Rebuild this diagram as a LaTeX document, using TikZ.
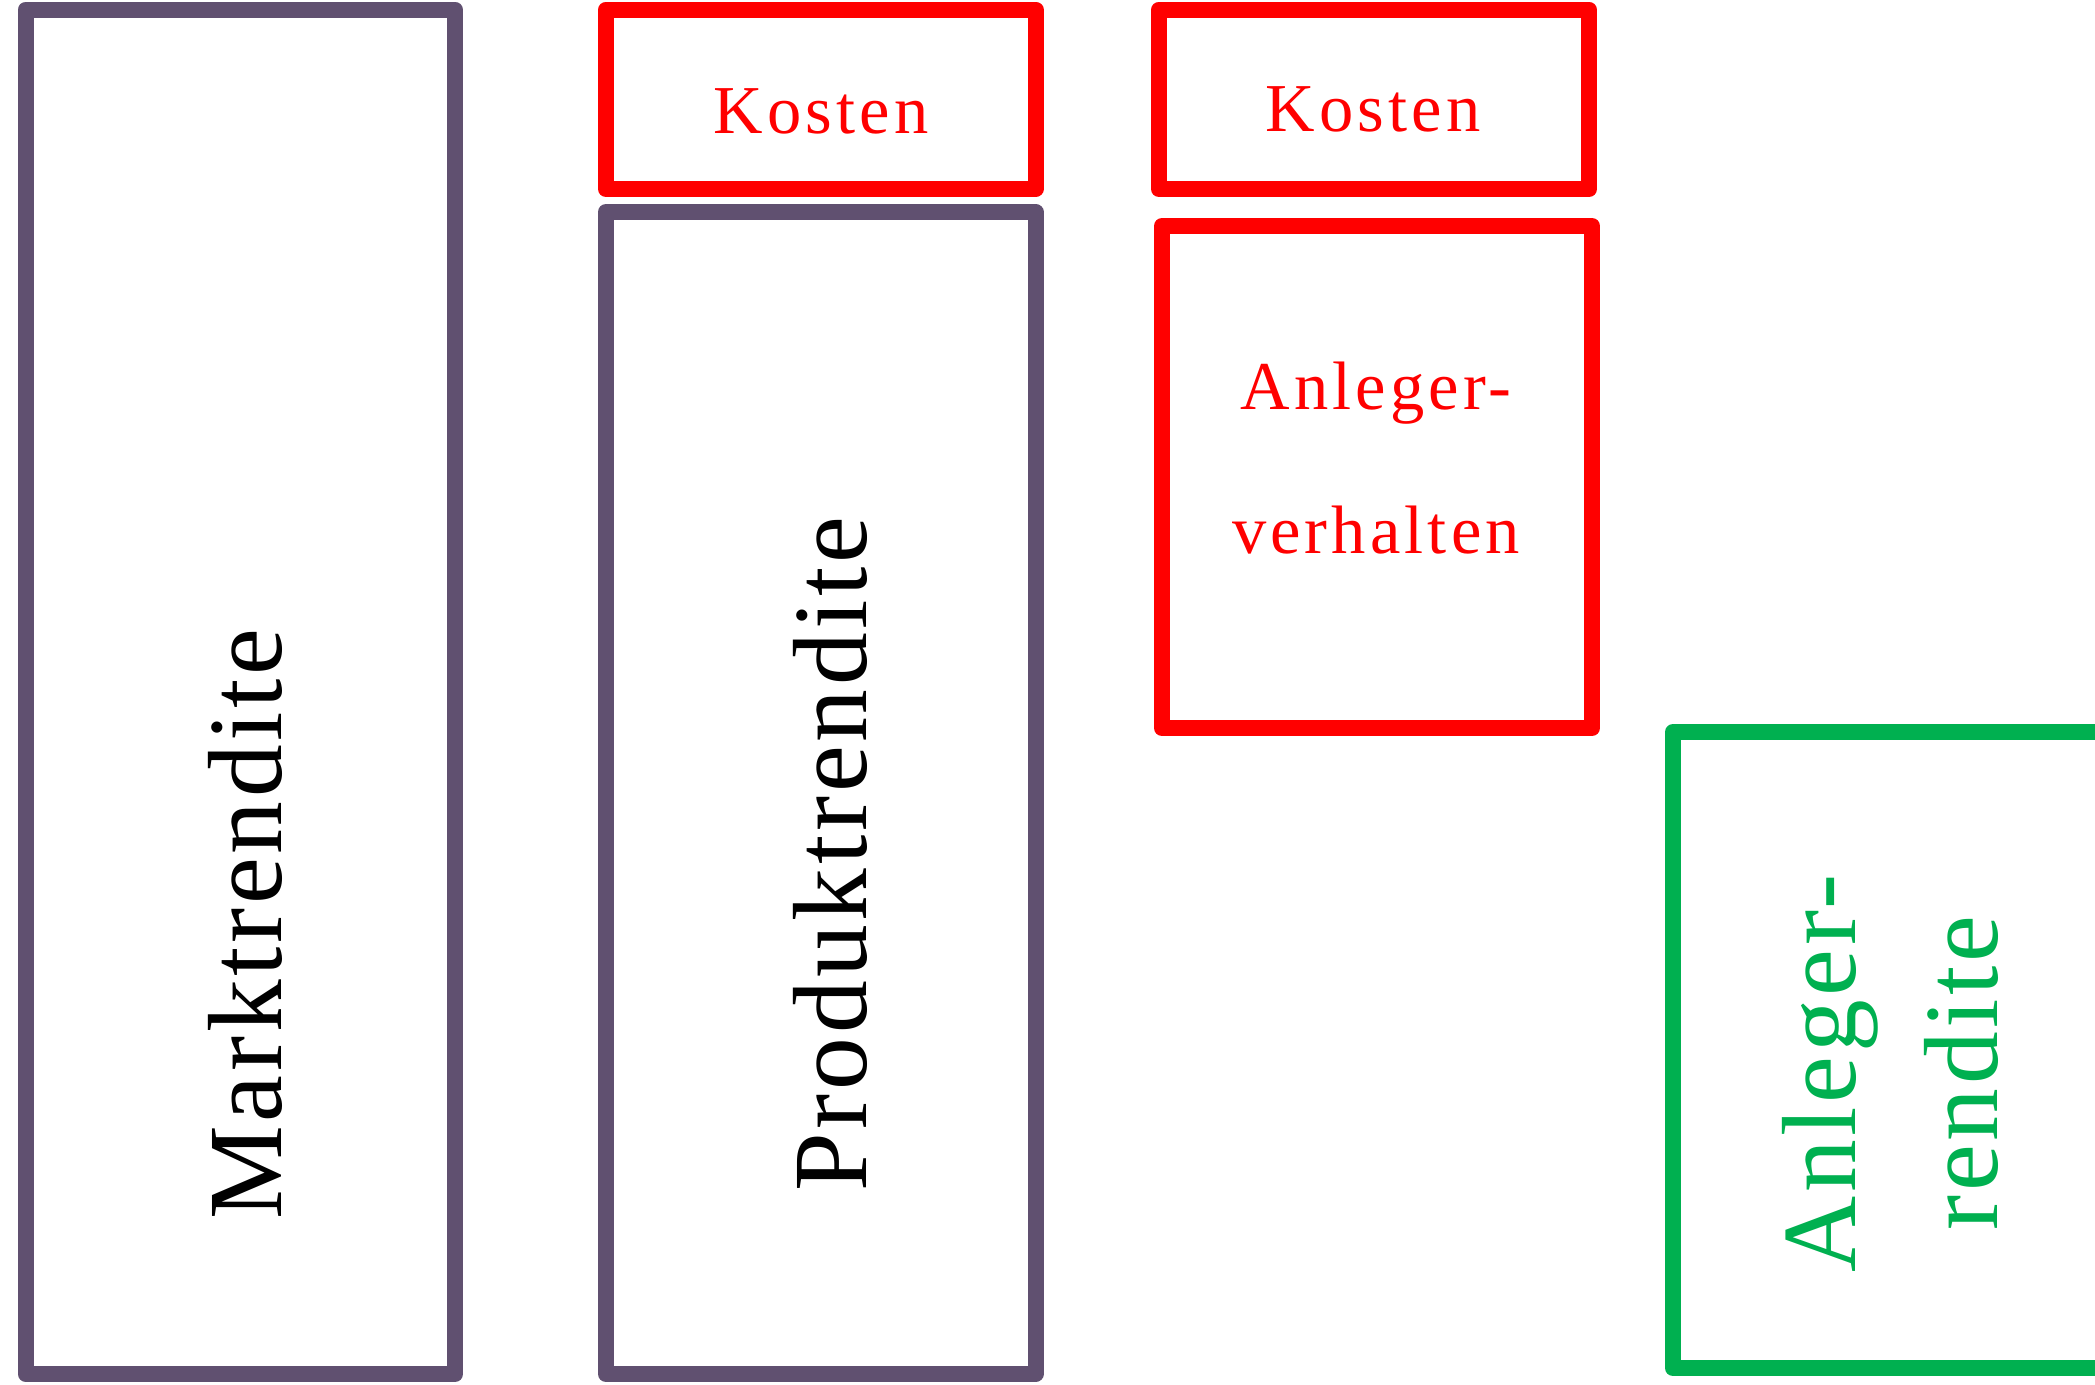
\documentclass[tikz,border=0pt]{standalone}
\usepackage{fontspec}
\setmainfont{Liberation Serif}
\newfontfamily\smallspaced[LetterSpace=6]{Liberation Serif}
\newfontfamily\bigspaced[LetterSpace=3.5]{Liberation Serif}
\definecolor{boxpurple}{RGB}{96,80,112}
\definecolor{boxred}{RGB}{255,0,0}
\definecolor{boxgreen}{RGB}{0,176,80}
\tikzset{
  frame/.style={draw, line width=1.6mm, line join=round, inner sep=0pt, outer sep=0pt},
  purplebox/.style={frame, draw=boxpurple},
  redbox/.style={frame, draw=boxred},
  greenbox/.style={frame, draw=boxgreen},
  labeltext/.style={inner sep=0pt, outer sep=0pt, anchor=base},
  smalltext/.style={labeltext, font=\smallspaced\fontsize{19.5}{40.7}\selectfont},
  bigtext/.style={labeltext, font=\bigspaced\fontsize{30}{40.4}\selectfont},
}
\begin{document}
\begin{tikzpicture}[x=0.1mm, y=-0.1mm]
\useasboundingbox (0,0) rectangle (2095,1384);
% boxes
\node[purplebox, minimum width=42.94mm, minimum height=136.45mm] (markt) at (240.3,691.75) {};
\node[redbox, minimum width=42.95mm, minimum height=17.95mm] (kosten1) at (820.75,99.25) {};
\node[purplebox, minimum width=42.95mm, minimum height=116.2mm] (produkt) at (820.75,793) {};
\node[redbox, minimum width=43mm, minimum height=17.95mm] (kosten2) at (1374,99.25) {};
\node[redbox, minimum width=43mm, minimum height=50.2mm] (verhalten) at (1377,477) {};
\node[greenbox, minimum width=43mm, minimum height=63.6mm] (anleger) at (1888,1050) {};
% labels
\node[bigtext, rotate=90] (marktlabel) at (281,924) {Marktrendite};
\node[smalltext, text=boxred] (kosten1label) at (821,133) {Kosten};
\node[bigtext, rotate=90] (produktlabel) at (866,854) {Produktrendite};
\node[smalltext, text=boxred] (kosten2label) at (1373,131) {Kosten};
\node[smalltext, text=boxred, align=center] (verhaltenlabel) at (1376,553) {Anleger-\\verhalten};
\node[bigtext, text=boxgreen, rotate=90, align=center] (anlegerlabel) at (1997,1073) {Anleger-\\rendite};
\end{tikzpicture}
\end{document}
